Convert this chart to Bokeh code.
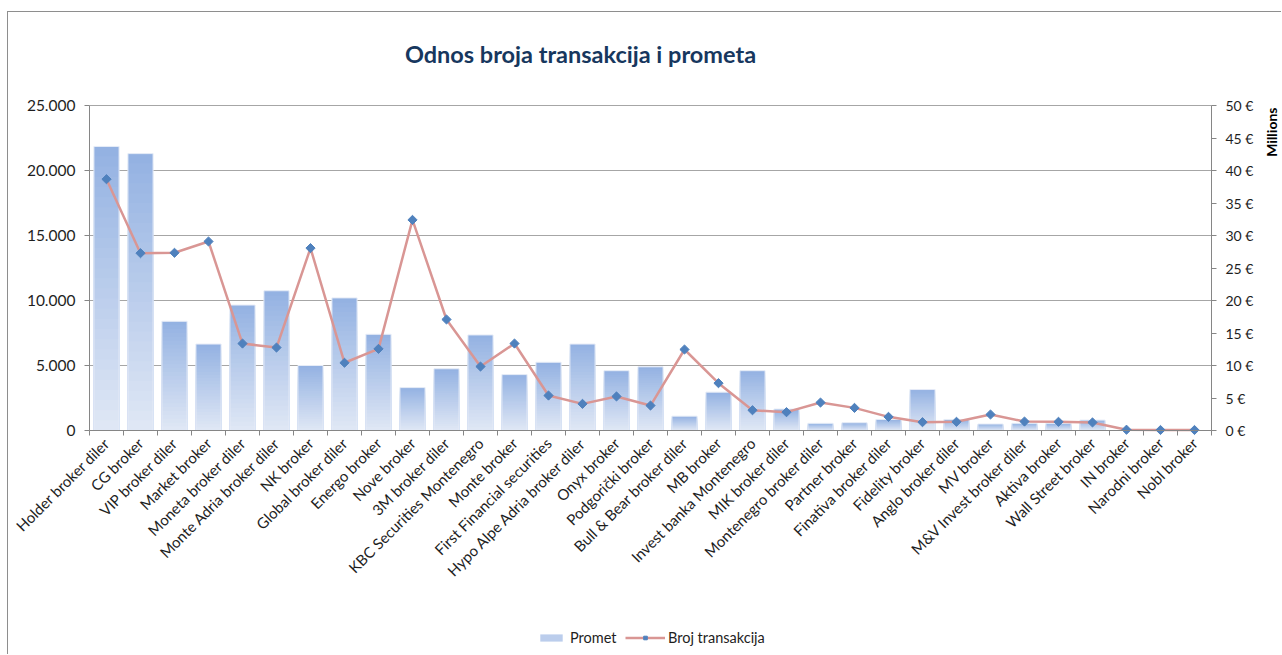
import math
import numpy as np
from bokeh.plotting import figure
from bokeh.models import (Range1d, LinearAxis, FixedTicker, CustomJSTickFormatter,
                          Legend, LegendItem, Label)
from bokeh.embed import file_html
from bokeh.resources import INLINE

categories = ["Holder broker diler", "CG broker", "VIP broker diler", "Market broker",
              "Moneta broker diler", "Monte Adria broker diler", "NK broker",
              "Global broker diler", "Energo broker", "Nove broker", "3M broker diler",
              "KBC Securities Montenegro", "Monte broker", "First Financial securities",
              "Hypo Alpe Adria broker diler", "Onyx broker", "Podgorički broker",
              "Bull & Bear broker diler", "MB broker", "Invest banka Montenegro",
              "MIK broker diler", "Montenegro broker diler", "Partner broker",
              "Finativa broker diler", "Fidelity broker", "Anglo broker diler", "MV broker",
              "M&V Invest broker diler", "Aktiva broker", "Wall Street broker", "IN broker",
              "Narodni broker", "Nobl broker"]

# Promet (turnover), millions of EUR -> right axis
promet_millions = [43.7, 42.6, 16.8, 13.3, 19.3, 21.5, 10.0, 20.4, 14.8, 6.6, 9.5,
                   14.7, 8.6, 10.5, 13.3, 9.2, 9.8, 2.2, 5.9, 9.2, 3.3, 1.1, 1.2,
                   1.7, 6.3, 1.7, 1.0, 1.1, 1.1, 1.6, 0.0, 0.0, 0.0]

# Broj transakcija (number of transactions) -> left axis
broj_transakcija = [19330, 13640, 13670, 14540, 6690, 6380, 14030, 5210, 6280, 16200,
                    8540, 4920, 6690, 2690, 2050, 2620, 1920, 6230, 3640, 1560, 1410,
                    2150, 1740, 1050, 640, 670, 1230, 690, 670, 620, 60, 40, 40]

left_ticks = [0, 5000, 10000, 15000, 20000, 25000]
right_ticks = [0, 5, 10, 15, 20, 25, 30, 35, 40, 45, 50]
LEFT_MAX = 25000
RIGHT_MAX = 50

FONT = "Lato"
TXT = "#1e1e1e"
AX = "#868686"

# canvas and plot-area geometry (pixels inside the canvas)
W, H = 1274, 643
PL, PR, PT, PB = 81, 1203, 93, 418

n = len(categories)
xc = np.arange(n) + 0.5

sx = n / (PR - PL)
sy = LEFT_MAX / (PB - PT)
x_range = Range1d(-PL * sx, n + (W - PR) * sx)
y_range = Range1d(-(H - PB) * sy, LEFT_MAX + PT * sy)
k_r = RIGHT_MAX / LEFT_MAX

p = figure(width=W, height=H, x_range=x_range, y_range=y_range, title=None,
           output_backend="svg", toolbar_location=None,
           min_border_left=0, min_border_right=0, min_border_top=0, min_border_bottom=0)
p.styles = {"margin-left": "7px", "margin-top": "11px",
            "border-left": "1px solid #8e8e8e", "border-top": "1px solid #8e8e8e"}
p.outline_line_color = None
p.background_fill_color = "white"
p.border_fill_color = "white"
p.extra_y_ranges = {"eur": Range1d(y_range.start * k_r, y_range.end * k_r)}

# horizontal grid lines limited to the plot area
p.xgrid.visible = False
p.ygrid.ticker = FixedTicker(ticks=left_ticks)
p.ygrid.grid_line_color = "#a6a6a6"
p.ygrid.grid_line_width = 1
try:
    p.ygrid.bounds = (0, LEFT_MAX)
    p.ygrid.cross_bounds = (0, n)
except Exception:
    p.ygrid.visible = False
    p.segment(x0=0, x1=n, y0=left_ticks, y1=left_ticks, line_color="#a6a6a6",
              line_width=1)

# gradient bars (stacked from the base, darkest at the top)
top_c = np.array([0x93, 0xB1, 0xE2])
bot_c = np.array([0xE0, 0xE8, 0xF5])
N = 28
vals = np.array(promet_millions)
legend_bar = None
for k in range(N):
    frac = (N - k) / N
    t = (N - k - 0.5) / N
    c = bot_c + (top_c - bot_c) * t
    col = "#%02x%02x%02x" % tuple(int(round(v)) for v in c)
    r = p.vbar(x=xc, top=vals * frac, bottom=0, width=0.74, fill_color=col,
               line_color=None, y_range_name="eur")
    if k == N // 2:
        legend_bar = r
p.vbar(x=xc, top=vals, bottom=0, width=0.74, fill_alpha=0, line_color="#e6ecf7",
       line_width=1, y_range_name="eur")

r_line = p.line(xc, broj_transakcija, line_color="#D99694", line_width=2.5)
r_pts = p.scatter(xc, broj_transakcija, marker="square", angle=math.pi / 4, size=6.5,
                  fill_color="#4F81BD", line_color="#4F81BD")

# left axis
ya = p.yaxis[0]
ya.fixed_location = 0
ya.bounds = (0, LEFT_MAX)
ya.ticker = FixedTicker(ticks=left_ticks)
ya.formatter = CustomJSTickFormatter(
    code="return tick.toFixed(0).replace(/\\B(?=(\\d{3})+(?!\\d))/g, '.');")
ya.axis_line_color = AX
ya.major_tick_line_color = AX
ya.major_tick_in = 0
ya.major_tick_out = 5
ya.minor_tick_line_color = None
ya.major_label_text_font = FONT
ya.major_label_text_font_size = "15.5px"
ya.major_label_text_color = TXT
ya.major_label_standoff = 9

# right axis (secondary, millions of EUR)
ra = LinearAxis(y_range_name="eur", ticker=FixedTicker(ticks=right_ticks),
                formatter=CustomJSTickFormatter(code="return tick + ' €';"))
ra.fixed_location = n
ra.bounds = (0, RIGHT_MAX)
ra.axis_line_color = AX
ra.major_tick_line_color = AX
ra.major_tick_in = 0
ra.major_tick_out = 5
ra.minor_tick_line_color = None
ra.major_label_text_font = FONT
ra.major_label_text_font_size = "14px"
ra.major_label_text_color = TXT
ra.major_label_standoff = 9
p.add_layout(ra, "right")

# bottom axis: labels at category centres, tick marks at category borders
xa = p.xaxis[0]
xa.fixed_location = 0
xa.bounds = (0, n)
xa.ticker = FixedTicker(ticks=list(xc), minor_ticks=list(range(n + 1)))
xa.formatter = CustomJSTickFormatter(args=dict(names=categories),
                                     code="return names[Math.floor(tick)];")
xa.axis_line_color = AX
xa.major_tick_line_color = None
xa.minor_tick_line_color = AX
xa.minor_tick_in = 0
xa.minor_tick_out = 5
xa.major_label_orientation = math.pi / 4
xa.major_label_text_font = FONT
xa.major_label_text_font_size = "15px"
xa.major_label_text_color = TXT
xa.major_label_standoff = 4

# title
p.add_layout(Label(x=572, y=H - 41, x_units="screen", y_units="screen",
                   text="Odnos broja transakcija i prometa", text_align="center",
                   text_baseline="alphabetic", text_font=FONT, text_font_style="bold",
                   text_font_size="23.5px", text_color="#17375E"))

# "Millions" (secondary axis unit)
p.add_layout(Label(x=1263, y=H - 95, x_units="screen", y_units="screen", text="Millions",
                   angle=math.pi / 2, text_align="right", text_baseline="middle",
                   text_font=FONT, text_font_style="bold", text_font_size="14px",
                   text_color="#000000"))

# legend
leg1 = Legend(items=[LegendItem(label="Promet", renderers=[legend_bar])],
              location=(529, 9), orientation="horizontal", glyph_width=28,
              glyph_height=9, padding=0, margin=0, border_line_alpha=0,
              background_fill_alpha=0, label_text_font=FONT, label_text_font_size="14.5px",
              label_text_color=TXT, label_standoff=5, label_height=18)
leg2 = Legend(items=[LegendItem(label="Broj transakcija", renderers=[r_line, r_pts])],
              location=(617, 9), orientation="horizontal", glyph_width=40,
              glyph_height=9, padding=0, margin=0, border_line_alpha=0,
              background_fill_alpha=0, label_text_font=FONT, label_text_font_size="14.5px",
              label_text_color=TXT, label_standoff=3, label_height=18)
p.add_layout(leg1)
p.add_layout(leg2)

open("out.html", "w").write(file_html(p, INLINE))
